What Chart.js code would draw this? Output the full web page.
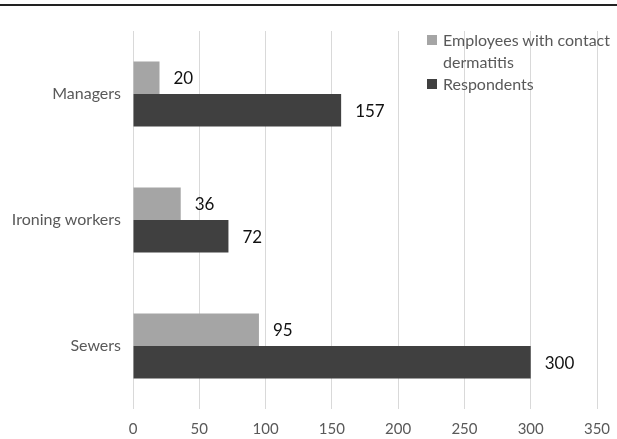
<!DOCTYPE html>
<html>
<head>
<meta charset="utf-8">
<script src="https://cdn.jsdelivr.net/npm/chart.js@4"></script>
<style>
  html, body { margin: 0; padding: 0; background: #fff; }
  #wrap { position: relative; width: 617px; height: 439px; }
  #topLine { position: absolute; left: 0; top: 4px; width: 617px; height: 2px; background: #222; }
  #legend { position: absolute; left: 425px; top: 29px; font-family: Lato, "Open Sans", sans-serif; font-size: 16px; color: #595959; line-height: 22px; }
  .item { position: relative; padding-left: 18px; }
  .box { position: absolute; left: 2px; top: 6px; width: 10px; height: 10px; }
</style>
</head>
<body>
<div id="wrap">
  <canvas id="chart" width="617" height="439"></canvas>
  <div id="topLine"></div>
  <div id="legend"></div>
</div>
<script>
const categories = ['Managers', 'Ironing workers', 'Sewers'];
const seriesNames = ['Employees with contact dermatitis', 'Respondents'];
const dermatitis = [20, 36, 95];
const respondents = [157, 72, 300];
const xTicks = [0, 50, 100, 150, 200, 250, 300, 350];
const colors = ['#a5a5a5', '#404040'];

const $ = (id) => document.getElementById(id);
const FONT = 'Lato, "Open Sans", sans-serif';

$('legend').innerHTML = `
  <div class="item"><span class="box" style="background:${colors[0]}"></span>Employees with contact<br>dermatitis</div>
  <div class="item"><span class="box" style="background:${colors[1]}"></span>${seriesNames[1]}</div>
`;

const valueLabels = {
  id: 'valueLabels',
  afterDatasetsDraw(chart) {
    const ctx = chart.ctx;
    ctx.save();
    ctx.font = `17px ${FONT}`;
    ctx.fillStyle = '#111';
    ctx.textBaseline = 'middle';
    ctx.textAlign = 'left';
    chart.data.datasets.forEach((ds, i) => {
      chart.getDatasetMeta(i).data.forEach((bar, j) => {
        ctx.fillText(ds.data[j], bar.x + 14, bar.y + 1);
      });
    });
    ctx.restore();
  }
};

new Chart($('chart'), {
  type: 'bar',
  data: {
    labels: categories,
    datasets: [
      { label: seriesNames[0], data: dermatitis, backgroundColor: colors[0] },
      { label: seriesNames[1], data: respondents, backgroundColor: colors[1] }
    ]
  },
  options: {
    indexAxis: 'y',
    responsive: false,
    animation: false,
    layout: { padding: { top: 31, right: 20, bottom: 0, left: 0 } },
    datasets: { bar: { barPercentage: 1, categoryPercentage: 0.516 } },
    plugins: { legend: { display: false }, tooltip: { enabled: false } },
    scales: {
      x: {
        min: 0,
        max: 350,
        afterBuildTicks: (axis) => { axis.ticks = xTicks.map(v => ({ value: v })); },
        afterFit: (axis) => { axis.height = 30; axis.paddingRight = 0; axis.paddingLeft = 0; },
        grid: { color: '#d9d9d9', drawTicks: false },
        border: { display: false },
        ticks: { color: '#595959', font: { family: FONT, size: 15 }, padding: 11 }
      },
      y: {
        afterFit: (axis) => { axis.width = 133; },
        grid: { display: false, drawTicks: false },
        border: { display: false },
        ticks: { color: '#595959', font: { family: FONT, size: 16 }, padding: 12 }
      }
    }
  },
  plugins: [valueLabels]
});
</script>
</body>
</html>
